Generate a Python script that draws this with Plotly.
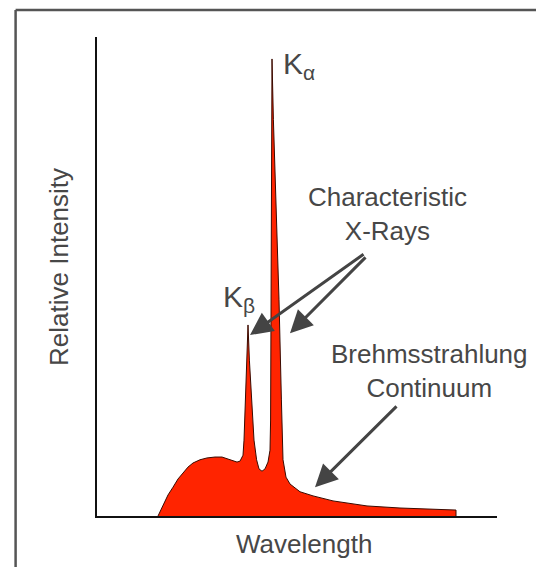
import plotly.graph_objects as go

# Spectrum (arbitrary units): wavelength vs relative intensity
wavelength = [15.25, 16.5, 17.75, 19, 20.25, 21.5, 22.75, 24, 25.75, 27.5, 29.5, 31.25,
              32.75, 34, 35, 35.75, 36.5, 36.75, 37.1, 37.5, 37.75, 38.1, 38.6, 39.25,
              39.9, 40.5, 41.25, 42, 42.75, 43.25, 43.4, 43.5, 43.6, 43.75, 43.75, 44.1,
              44.75, 45.5, 46.1, 46.5, 47.25, 48.25, 50.75, 54, 59, 67.5, 75.75, 89.75, 89.75]
intensity = [0, 2.2, 4.6, 6.3, 8.1, 9.4, 10.7, 11.6, 12.3, 12.7, 12.9, 12.9,
             12.5, 12.0, 11.8, 12.0, 13.3, 16.6, 25.4, 34.1, 41.8, 34.1, 25.4, 16.6,
             12.3, 10.3, 9.8, 10.3, 11.8, 14.4, 21.0, 47.3, 69.1, 86.7, 100, 86.7,
             69.1, 47.3, 25.4, 12.3, 8.5, 7.0, 5.3, 4.4, 3.3, 2.2, 1.75, 1.3, 0]

# Peak labels and annotation text
peak_labels = ["K<sub>α</sub>", "K<sub>β</sub>"]
peak_label_x = [46.0, 31.0]
peak_label_y = [98.6, 47.6]
char_text = "Characteristic<br>X-Rays"
brems_text = "Brehmsstrahlung<br>Continuum"

TXT = "#474747"
FONT = "Liberation Sans, Arial, sans-serif"

fig = go.Figure()
fig.add_trace(go.Scatter(
    x=wavelength, y=intensity, mode="lines", fill="tozeroy",
    fillcolor="#FF2400", line=dict(color="#3a0a00", width=1),
    hoverinfo="skip", showlegend=False))

ann = []
for t, x, y in zip(peak_labels, peak_label_x, peak_label_y):
    ann.append(dict(x=x, y=y, xref="x", yref="y", text=t, showarrow=False,
                    xanchor="left", yanchor="middle",
                    font=dict(size=30, color=TXT, family=FONT)))
ann.append(dict(x=72.5, y=66.0, xref="x", yref="y", text=char_text, showarrow=False,
                xanchor="center", yanchor="middle",
                font=dict(size=26, color=TXT, family=FONT)))
ann.append(dict(x=83.0, y=31.8, xref="x", yref="y", text=brems_text, showarrow=False,
                xanchor="center", yanchor="middle",
                font=dict(size=26, color=TXT, family=FONT)))

# arrows
arrows = [((67, 57.5), (38.25, 39.6)), ((67.5, 56.9), (48.25, 40.0)), ((75.25, 24.3), (54.5, 6.3))]
for (tx, ty), (hx, hy) in arrows:
    ann.append(dict(x=hx, y=hy, ax=tx, ay=ty, xref="x", yref="y", axref="x", ayref="y",
                    text="", showarrow=True, arrowhead=2, arrowsize=1.5, arrowwidth=3,
                    arrowcolor="#444444", standoff=0, startstandoff=0))

# axis titles
ann.append(dict(x=0.5175, y=-0.024, xref="paper", yref="paper", text="Wavelength",
                showarrow=False, xanchor="center", yanchor="top",
                font=dict(size=26, color=TXT, family=FONT)))
ann.append(dict(x=-0.095, y=0.52, xref="paper", yref="paper", text="Relative Intensity",
                showarrow=False, xanchor="center", yanchor="middle", textangle=-90,
                font=dict(size=26, color=TXT, family=FONT)))

frame = dict(color="#555555", width=2.5)
fig.update_layout(
    width=536, height=567,
    margin=dict(l=97, r=39, t=37, b=51),
    paper_bgcolor="white", plot_bgcolor="white",
    annotations=ann,
    shapes=[dict(type="line", xref="paper", yref="paper",
                 x0=-0.2035, x1=1.2, y0=1.0565, y1=1.0565, line=frame, layer="below"),
            dict(type="line", xref="paper", yref="paper",
                 x0=-0.2035, x1=-0.2035, y0=-0.3, y1=1.0565, line=frame, layer="below")],
    xaxis=dict(range=[0, 100], showline=True, linecolor="#111111", linewidth=2,
               showgrid=False, zeroline=False, showticklabels=False, ticks="",
               fixedrange=True),
    yaxis=dict(range=[0, 104.8], showline=True, linecolor="#111111", linewidth=2,
               showgrid=False, zeroline=False, showticklabels=False, ticks="",
               fixedrange=True),
)

fig.write_html(
    "out.html",
    config={"displayModeBar": False},
    post_script="document.body.style.margin='0';document.documentElement.style.overflow='hidden';document.body.style.overflow='hidden';",
)
